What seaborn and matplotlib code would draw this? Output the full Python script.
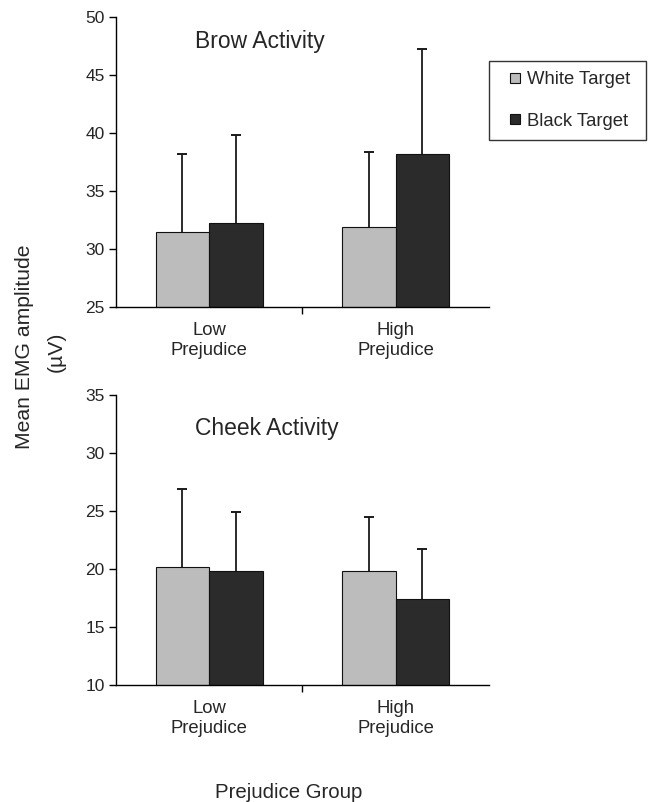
import numpy as np
import pandas as pd
import matplotlib
matplotlib.use("Agg")
import matplotlib.pyplot as plt
import seaborn as sns
from matplotlib.lines import Line2D

groups = ["Low\nPrejudice", "High\nPrejudice"]
targets = ["White Target", "Black Target"]

brow_white = [31.5, 31.9]
brow_black = [32.2, 38.2]
brow_white_top = [38.2, 38.4]   # upper end of error bar
brow_black_top = [39.8, 47.2]

cheek_white = [20.2, 19.8]
cheek_black = [19.8, 17.4]
cheek_white_top = [26.9, 24.5]
cheek_black_top = [24.9, 21.7]

colors = {"White Target": "#bcbcbc", "Black Target": "#2b2b2b"}

sns.set_style("ticks")
plt.rcParams["font.family"] = ["Liberation Sans", "DejaVu Sans"]


def make_df(white, black, wtop, btop):
    rows = []
    for i, g in enumerate(groups):
        rows.append({"group": g, "target": "White Target", "value": white[i], "top": wtop[i]})
        rows.append({"group": g, "target": "Black Target", "value": black[i], "top": btop[i]})
    return pd.DataFrame(rows)


fig = plt.figure(figsize=(6.49, 8.02), dpi=100)
ax1 = fig.add_axes([0.1787, 0.6172, 0.5747, 0.3616])
ax2 = fig.add_axes([0.1787, 0.1459, 0.5747, 0.3616])

panels = [
    (ax1, make_df(brow_white, brow_black, brow_white_top, brow_black_top), (25, 50), "Brow Activity", 0.914),
    (ax2, make_df(cheek_white, cheek_black, cheek_white_top, cheek_black_top), (10, 35), "Cheek Activity", 0.886),
]

for ax, df, ylim, title, ty in panels:
    sns.barplot(data=df, x="group", y="value", hue="target", hue_order=targets,
                order=groups, palette=colors, width=0.574, gap=0, ax=ax,
                edgecolor="#111111", linewidth=0.8, errorbar=None, legend=False,
                zorder=2)
    # upper-only error bars at the bar centres
    for cont, tgt in zip(ax.containers, targets):
        sub = df[df["target"] == tgt].set_index("group").loc[groups]
        xs = [b.get_x() + b.get_width() / 2 for b in cont]
        ax.errorbar(xs, sub["value"], yerr=[np.zeros(len(xs)), sub["top"] - sub["value"]],
                    fmt="none", ecolor="#1a1a1a", elinewidth=1.3, capsize=0, zorder=1)
        ax.plot(xs, sub["top"], ls="none", marker="_", markersize=7, mew=1.4,
                color="#1a1a1a", zorder=1)
    ax.set_ylim(*ylim)
    ax.set_xlim(-0.5, 1.5)
    ax.set_yticks(np.arange(ylim[0], ylim[1] + 1, 5))
    ax.set_xlabel("")
    ax.set_ylabel("")
    ax.set_xticks([0, 1])
    ax.set_xticklabels(groups, fontsize=13.3, linespacing=1.2)
    ax.set_xticks([0.5], minor=True)
    ax.tick_params(axis="x", which="major", length=0, pad=11)
    ax.tick_params(axis="x", which="minor", length=5, width=1, color="black")
    ax.tick_params(axis="y", length=5, width=1, color="black", labelsize=12.5, pad=3)
    sns.despine(ax=ax)
    for s in ["left", "bottom"]:
        ax.spines[s].set_color("black")
        ax.spines[s].set_linewidth(1)
    ax.text(0.212, ty, title, transform=ax.transAxes, fontsize=16.5, ha="left", va="center")

handles = [Line2D([], [], ls="none", marker="s", markersize=6.5, markerfacecolor=colors[t],
                  markeredgecolor="#111111", markeredgewidth=0.8, label=t) for t in targets]
leg = fig.legend(handles=handles, loc="upper left",
                 bbox_to_anchor=(489 / 649, 1 - 140 / 802, 157 / 649, 79 / 802),
                 mode="expand", frameon=True, fancybox=False, edgecolor="black", fontsize=13.3,
                 handlelength=1.7, handletextpad=-0.2,
                 labelspacing=1.32, borderpad=0.55, borderaxespad=0)
leg.get_frame().set_linewidth(1)

fig.text(25 / 649, 1 - 347 / 802, "Mean EMG amplitude", rotation=90, ha="center", va="center", fontsize=15.2)
fig.text(56 / 649, 1 - 352 / 802, "(\u00b5V)", rotation=90, ha="center", va="center", fontsize=15.2)
fig.text(289 / 649, 0.005, "Prejudice Group", ha="center", va="baseline", fontsize=14.7)

fig.savefig("out.png", dpi=100, facecolor="white")
